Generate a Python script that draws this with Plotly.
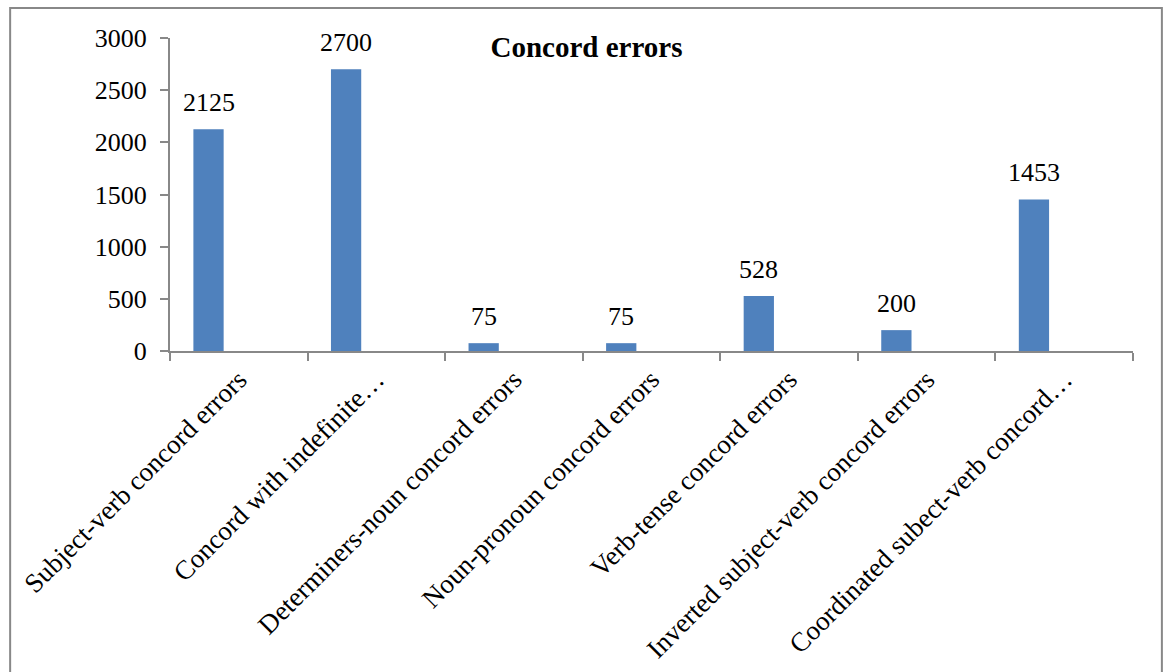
import plotly.graph_objects as go

categories = [
    "Subject-verb concord errors",
    "Concord with indefinite…",
    "Determiners-noun concord errors",
    "Noun-pronoun concord errors",
    "Verb-tense concord errors",
    "Inverted subject-verb concord errors",
    "Coordinated subect-verb concord…",
]
values = [2125, 2700, 75, 75, 528, 200, 1453]
y_ticks = [0, 500, 1000, 1500, 2000, 2500, 3000]

FONT = "Liberation Serif, Times New Roman, serif"

fig = go.Figure()
fig.add_trace(go.Bar(
    x=categories, y=values, width=0.22, offset=-0.33,
    marker=dict(color="#4F81BD", line=dict(width=0)),
    cliponaxis=False,
))

# data labels above bars, centred on each bar (bar centre = category - 0.22)
for i, v in enumerate(values):
    fig.add_annotation(
        x=i - 0.22, y=v, xref="x", yref="y", text=str(v), showarrow=False,
        yanchor="bottom", yshift=10,
        font=dict(family=FONT, size=26, color="black"),
    )

fig.update_layout(
    width=1166, height=672,
    margin=dict(l=170, r=33, t=38, b=321, autoexpand=False),
    paper_bgcolor="white", plot_bgcolor="white",
    showlegend=False,
    font=dict(family=FONT, size=26, color="black"),
    title=dict(text="<b>Concord errors</b>", x=0.503, xref="container", xanchor="center",
               y=1 - 47 / 672, yref="container", yanchor="middle",
               font=dict(family=FONT, size=29, color="black")),
)
fig.update_xaxes(
    type="category", tickangle=-45, showline=True, linecolor="#888888", linewidth=2,
    ticks="outside", tickson="boundaries", ticklen=8, tickcolor="#888888", tickwidth=2,
    showgrid=False, tickfont=dict(family=FONT, size=27, color="black"),
    range=[-0.5, len(categories) - 0.5], automargin=False,
)
fig.update_yaxes(
    range=[0, 3000], tickvals=y_ticks, showline=True, linecolor="#888888", linewidth=2,
    ticks="outside", ticklen=8, tickcolor="#888888", tickwidth=2,
    showgrid=False, zeroline=False, tickfont=dict(family=FONT, size=26, color="black"),
    automargin=False, ticklabelstandoff=8,
)
fig.add_shape(type="rect", xref="paper", yref="paper",
              x0=-0.166, x1=1.030, y0=-1.1, y1=1.096,
              line=dict(color="#888888", width=2), fillcolor="rgba(0,0,0,0)", layer="below")

fig.write_html("out.html")
